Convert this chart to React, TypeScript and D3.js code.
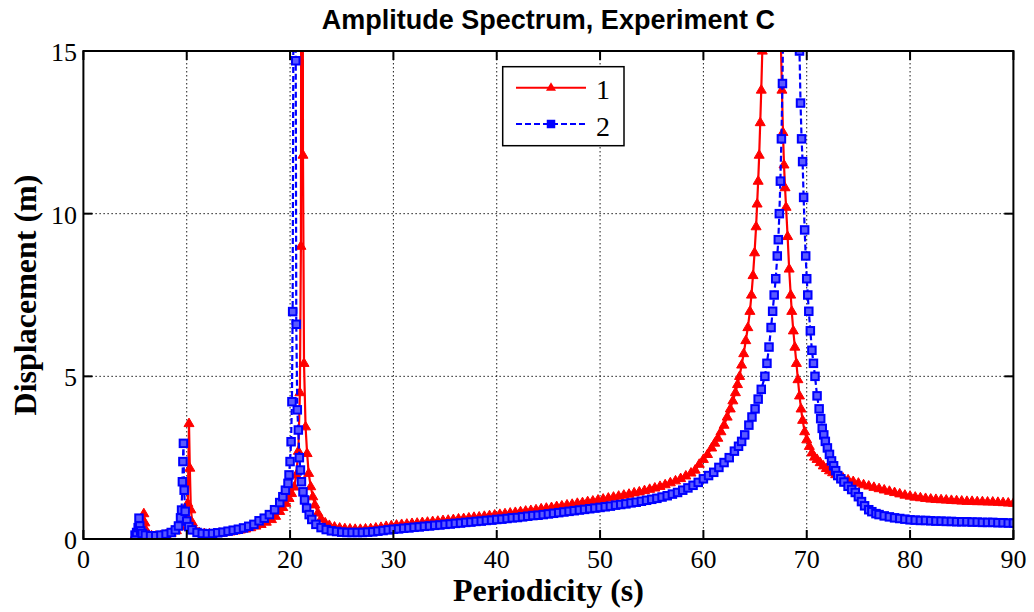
import React from "react";
import * as d3 from "d3";

const title = "Amplitude Spectrum, Experiment C";
const xLabel = "Periodicity (s)";
const yLabel = "Displacement (m)";
const xTicks = [0, 10, 20, 30, 40, 50, 60, 70, 80, 90];
const yTicks = [0, 5, 10, 15];
const seriesNames = ["1", "2"];

// Series 1 (red, triangles): [period (s), displacement (m)]
const series1: [number, number][] = [
  [5.0,0.12],[5.2,0.15],[5.4,0.22],[5.6,0.38],[5.75,0.55],[5.85,0.78],[5.95,0.5],[6.1,0.25],[6.3,0.14],[6.6,0.1],
  [7.0,0.09],[7.5,0.1],[8.0,0.13],[8.5,0.18],[9.0,0.26],[9.4,0.38],[9.7,0.55],[9.9,0.75],[10.1,1.1],[10.22,3.55],
  [10.3,2.18],[10.4,0.9],[10.55,0.5],[10.8,0.3],[11.2,0.2],[11.7,0.17],[12.2,0.16],[12.7,0.17],[13.2,0.18],[13.7,0.2],
  [14.2,0.22],[14.7,0.25],[15.2,0.28],[15.7,0.31],[16.2,0.35],[16.7,0.4],[17.2,0.45],[17.7,0.52],[18.2,0.6],[18.6,0.7],
  [19.0,0.85],[19.3,0.97],[19.6,1.1],[19.9,1.25],[20.15,1.4],[20.4,1.6],[20.6,1.97],[20.8,2.7],[20.95,4.5],[21.05,9],
  [21.15,40],[21.25,11.8],[21.35,5.4],[21.5,3.45],[21.65,2.63],[21.8,2.02],[22.0,1.61],[22.2,1.3],[22.4,1.05],[22.7,0.8],
  [23.0,0.62],[23.4,0.5],[23.8,0.42],[24.3,0.37],[24.8,0.34],[25.3,0.32],[25.8,0.31],[26.3,0.3],[26.8,0.3],[27.3,0.31],
  [27.8,0.32],[28.3,0.34],[28.8,0.36],[29.3,0.39],[29.8,0.41],[30.3,0.43],[30.8,0.45],[31.3,0.46],[31.8,0.48],[32.3,0.49],
  [32.8,0.51],[33.3,0.52],[33.8,0.54],[34.3,0.55],[34.8,0.57],[35.3,0.58],[35.8,0.6],[36.3,0.62],[36.8,0.63],[37.3,0.65],
  [37.8,0.67],[38.3,0.68],[38.8,0.7],[39.3,0.72],[39.8,0.74],[40.3,0.76],[40.8,0.78],[41.3,0.8],[41.8,0.82],[42.3,0.84],
  [42.8,0.86],[43.3,0.88],[43.8,0.9],[44.3,0.93],[44.8,0.95],[45.3,0.97],[45.8,1.0],[46.3,1.02],[46.8,1.05],[47.3,1.07],
  [47.8,1.1],[48.3,1.12],[48.8,1.15],[49.3,1.17],[49.8,1.2],[50.3,1.23],[50.8,1.26],[51.3,1.29],[51.8,1.32],[52.3,1.35],
  [52.8,1.38],[53.3,1.42],[53.8,1.45],[54.3,1.49],[54.8,1.53],[55.3,1.57],[55.8,1.62],[56.3,1.67],[56.8,1.73],[57.3,1.79],
  [57.8,1.86],[58.3,1.94],[58.8,2.03],[59.2,2.12],[59.6,2.3],[60.0,2.45],[60.4,2.6],[60.8,2.8],[61.1,2.95],[61.4,3.1],
  [61.7,3.3],[62.0,3.5],[62.3,3.75],[62.6,4.0],[62.85,4.25],[63.1,4.5],[63.3,4.75],[63.5,5.0],[63.7,5.35],[63.9,5.7],
  [64.1,6.1],[64.3,6.5],[64.5,7.0],[64.65,7.5],[64.8,8.1],[64.95,8.8],[65.1,9.6],[65.2,10.3],[65.3,11.0],[65.4,11.8],
  [65.5,12.8],[65.6,13.8],[65.7,15.0],[65.85,17.5],[66.0,21],[66.2,28],[66.45,40],[66.7,42],[66.95,30],[67.15,22],
  [67.35,17.5],[67.5,15.2],[67.6,13.8],[67.7,12.5],[67.8,11.5],[67.9,10.8],[68.0,10.2],[68.15,9.3],[68.3,8.3],[68.45,7.5],
  [68.55,7.0],[68.7,6.4],[68.85,5.9],[69.0,5.4],[69.15,4.9],[69.3,4.4],[69.45,4.0],[69.6,3.65],[69.8,3.3],[70.0,3.05],
  [70.25,2.85],[70.5,2.65],[70.75,2.52],[71.0,2.45],[71.3,2.35],[71.6,2.25],[71.9,2.17],[72.2,2.1],[72.5,2.04],[72.8,1.98],
  [73.1,1.93],[73.5,1.88],[74.0,1.82],[74.5,1.77],[75.0,1.72],[75.5,1.67],[76.0,1.63],[76.5,1.59],[77.0,1.55],[77.5,1.51],
  [78.0,1.47],[78.5,1.43],[79.0,1.39],[79.5,1.35],[80.0,1.32],[80.5,1.29],[81.0,1.27],[81.5,1.25],[82.0,1.23],[82.5,1.22],
  [83.0,1.21],[83.5,1.2],[84.0,1.19],[84.5,1.18],[85.0,1.17],[85.5,1.16],[86.0,1.16],[86.5,1.15],[87.0,1.15],[87.5,1.14],
  [88.0,1.14],[88.5,1.13],[89.0,1.12],[89.5,1.11],[90.0,1.1],
];

// Series 2 (blue, squares, dashed): [period (s), displacement (m)]
const series2: [number, number][] = [
  [5.0,0.12],[5.15,0.2],[5.3,0.35],[5.38,0.64],[5.45,0.4],[5.55,0.25],[5.7,0.17],[6.0,0.12],[6.5,0.1],[7.0,0.1],
  [7.5,0.12],[8.0,0.15],[8.5,0.2],[8.9,0.28],[9.2,0.4],[9.4,0.65],[9.5,0.89],[9.58,1.76],[9.63,2.38],[9.68,2.94],
  [9.75,1.5],[9.85,0.85],[10.0,0.55],[10.2,0.38],[10.5,0.28],[11.0,0.2],[11.5,0.17],[12.0,0.16],[12.5,0.17],[13.0,0.19],
  [13.5,0.21],[14.0,0.24],[14.5,0.27],[15.0,0.3],[15.5,0.34],[16.0,0.39],[16.5,0.45],[17.0,0.56],[17.5,0.64],[18.0,0.75],
  [18.5,0.9],[19.0,1.12],[19.3,1.3],[19.55,1.5],[19.8,1.71],[19.9,1.97],[20.0,2.38],[20.1,2.99],[20.18,4.22],[20.25,6.99],
  [20.35,20],[20.45,50],[20.55,14.7],[20.6,6.6],[20.7,3.97],[20.8,3.35],[20.9,2.5],[21.0,2.12],[21.1,1.76],[21.25,1.45],
  [21.4,1.2],[21.6,0.95],[21.85,0.75],[22.1,0.6],[22.5,0.45],[23.0,0.35],[23.5,0.29],[24.0,0.25],[24.5,0.23],[25.0,0.21],
  [25.5,0.2],[26.0,0.2],[26.5,0.2],[27.0,0.2],[27.5,0.21],[28.0,0.22],[28.5,0.24],[29.0,0.26],[29.5,0.28],[30.0,0.3],
  [30.5,0.31],[31.0,0.33],[31.5,0.34],[32.0,0.36],[32.5,0.37],[33.0,0.39],[33.5,0.4],[34.0,0.42],[34.5,0.43],[35.0,0.45],
  [35.5,0.46],[36.0,0.48],[36.5,0.49],[37.0,0.51],[37.5,0.52],[38.0,0.54],[38.5,0.55],[39.0,0.57],[39.5,0.58],[40.0,0.6],
  [40.5,0.61],[41.0,0.63],[41.5,0.65],[42.0,0.66],[42.5,0.68],[43.0,0.7],[43.5,0.72],[44.0,0.73],[44.5,0.75],[45.0,0.77],
  [45.5,0.79],[46.0,0.81],[46.5,0.83],[47.0,0.85],[47.5,0.87],[48.0,0.89],[48.5,0.91],[49.0,0.93],[49.5,0.95],[50.0,0.97],
  [50.5,0.99],[51.0,1.01],[51.5,1.04],[52.0,1.06],[52.5,1.08],[53.0,1.11],[53.5,1.13],[54.0,1.16],[54.5,1.19],[55.0,1.22],
  [55.5,1.25],[56.0,1.29],[56.5,1.33],[57.0,1.38],[57.5,1.43],[58.0,1.5],[58.5,1.57],[59.0,1.65],[59.5,1.74],[60.0,1.85],
  [60.5,1.95],[61.0,2.05],[61.5,2.2],[62.0,2.35],[62.5,2.5],[63.0,2.7],[63.4,2.85],[63.7,3.0],[64.0,3.2],[64.4,3.5],
  [64.7,3.75],[65.0,4.0],[65.3,4.3],[65.6,4.6],[65.95,5.0],[66.15,5.4],[66.35,5.9],[66.55,6.5],[66.7,7.0],[66.85,7.5],
  [67.0,8.0],[67.15,8.7],[67.25,9.2],[67.35,10.0],[67.45,11.0],[67.55,12.3],[67.65,14.0],[67.75,16.5],[67.9,21],[68.1,30],
  [68.35,45],[68.6,45],[68.85,30],[69.05,21],[69.2,17],[69.3,15],[69.4,13.4],[69.5,12.3],[69.6,11.6],[69.7,10.5],
  [69.8,9.5],[69.9,8.7],[70.0,8.0],[70.1,7.5],[70.2,7.0],[70.35,6.4],[70.5,5.8],[70.65,5.4],[70.8,5.0],[71.0,4.4],
  [71.2,4.0],[71.35,3.7],[71.5,3.4],[71.65,3.2],[71.8,3.0],[72.0,2.8],[72.2,2.6],[72.4,2.4],[72.6,2.25],[72.8,2.1],
  [73.0,1.95],[73.3,1.85],[73.6,1.75],[74.0,1.62],[74.35,1.52],[74.7,1.43],[75.0,1.3],[75.3,1.15],[75.6,1.02],[76.0,0.9],
  [76.3,0.84],[76.7,0.78],[77.0,0.75],[77.5,0.71],[78.0,0.68],[78.5,0.65],[79.0,0.63],[79.5,0.61],[80.0,0.59],[80.5,0.58],
  [81.0,0.57],[81.5,0.57],[82.0,0.56],[82.5,0.55],[83.0,0.55],[83.5,0.54],[84.0,0.54],[84.5,0.53],[85.0,0.53],[85.5,0.53],
  [86.0,0.52],[86.5,0.52],[87.0,0.51],[87.5,0.51],[88.0,0.51],[88.5,0.5],[89.0,0.5],[89.5,0.49],[90.0,0.49],
];

const W = 1034;
const H = 612;
const PL = 83.4, PR = 1013.4, PT = 51, PB = 539;

const RED = "#ff0000";
const BLUE = "#0000ff";
const SERIF = "'Liberation Serif', 'Times New Roman', serif";
const SANS = "'Liberation Sans', Arial, sans-serif";

const triPath = "M0,-5.4 L5,3.1 L-5,3.1 Z";
const SQ = 7.5;

export default function App() {
  const x = d3.scaleLinear().domain([0, 90]).range([PL, PR]);
  const y = d3.scaleLinear().domain([0, 15]).range([PB, PT]);
  const line = d3.line<[number, number]>().x((d) => x(d[0])).y((d) => y(d[1]));
  const tickLen = 9;

  return (
    <svg width={W} height={H} style={{ position: "absolute", left: 0, top: 0, background: "#fff" }}>
      <defs>
        <clipPath id="plotClip">
          <rect x={PL} y={PT} width={PR - PL} height={PB - PT} />
        </clipPath>
      </defs>
      <rect x={0} y={0} width={W} height={H} fill="#fff" />
      {/* grid */}
      {xTicks.slice(1, -1).map((t) => (
        <line key={"gx" + t} x1={x(t)} x2={x(t)} y1={PT} y2={PB} stroke="#000" strokeWidth={0.9} strokeDasharray="1.5,2.5" />
      ))}
      {yTicks.slice(1, -1).map((t) => (
        <line key={"gy" + t} x1={PL} x2={PR} y1={y(t)} y2={y(t)} stroke="#000" strokeWidth={0.9} strokeDasharray="1.5,2.5" />
      ))}
      {/* series */}
      <g clipPath="url(#plotClip)">
        <path d={line(series1) || ""} fill="none" stroke={RED} strokeWidth={2.2} />
        {series1.map((d, i) => (
          <path key={"m1" + i} d={triPath} transform={`translate(${x(d[0])},${y(d[1])})`} fill={RED} stroke={RED} strokeWidth={1} />
        ))}
        <path d={line(series2) || ""} fill="none" stroke={BLUE} strokeWidth={2.2} strokeDasharray="6,3" />
        {series2.map((d, i) => (
          <rect key={"m2" + i} x={x(d[0]) - SQ / 2} y={y(d[1]) - SQ / 2} width={SQ} height={SQ} fill="#5a5aff" stroke={BLUE} strokeWidth={2} />
        ))}
      </g>
      {/* box */}
      <rect x={PL} y={PT} width={PR - PL} height={PB - PT} fill="none" stroke="#000" strokeWidth={2} />
      {/* ticks */}
      {xTicks.map((t) => (
        <g key={"tx" + t}>
          <line x1={x(t)} x2={x(t)} y1={PB} y2={PB - tickLen} stroke="#000" strokeWidth={2} />
          <line x1={x(t)} x2={x(t)} y1={PT} y2={PT + tickLen} stroke="#000" strokeWidth={2} />
          <text x={x(t)} y={568} textAnchor="middle" fontFamily={SERIF} fontSize={26} fill="#000">{t}</text>
        </g>
      ))}
      {yTicks.map((t) => (
        <g key={"ty" + t}>
          <line x1={PL} x2={PL + tickLen} y1={y(t)} y2={y(t)} stroke="#000" strokeWidth={2} />
          <line x1={PR} x2={PR - tickLen} y1={y(t)} y2={y(t)} stroke="#000" strokeWidth={2} />
          <text x={77} y={y(t) + 10} textAnchor="end" fontFamily={SERIF} fontSize={26} fill="#000">{t}</text>
        </g>
      ))}
      {/* labels */}
      <text x={(PL + PR) / 2} y={29} textAnchor="middle" fontFamily={SANS} fontWeight="bold" fontSize={27} fill="#000">{title}</text>
      <text x={(PL + PR) / 2} y={601} textAnchor="middle" fontFamily={SERIF} fontWeight="bold" fontSize={32} fill="#000">{xLabel}</text>
      <text transform={`translate(36,${(PT + PB) / 2}) rotate(-90)`} textAnchor="middle" fontFamily={SERIF} fontWeight="bold" fontSize={32} fill="#000">{yLabel}</text>
      {/* legend */}
      <g>
        <rect x={502.7} y={66.7} width={121.3} height={79} fill="#fff" stroke="#000" strokeWidth={1.5} />
        <line x1={516} x2={586} y1={87.7} y2={87.7} stroke={RED} strokeWidth={2} />
        <path d={triPath} transform="translate(551,87.7)" fill={RED} />
        <text x={596} y={99.3} fontFamily={SERIF} fontSize={28} fill="#000">{seriesNames[0]}</text>
        <line x1={516} x2={586} y1={124} y2={124} stroke={BLUE} strokeWidth={2} strokeDasharray="6,3" />
        <rect x={547.5} y={120.5} width={7} height={7} fill={BLUE} stroke={BLUE} strokeWidth={1.5} />
        <text x={596} y={136} fontFamily={SERIF} fontSize={28} fill="#000">{seriesNames[1]}</text>
      </g>
    </svg>
  );
}
